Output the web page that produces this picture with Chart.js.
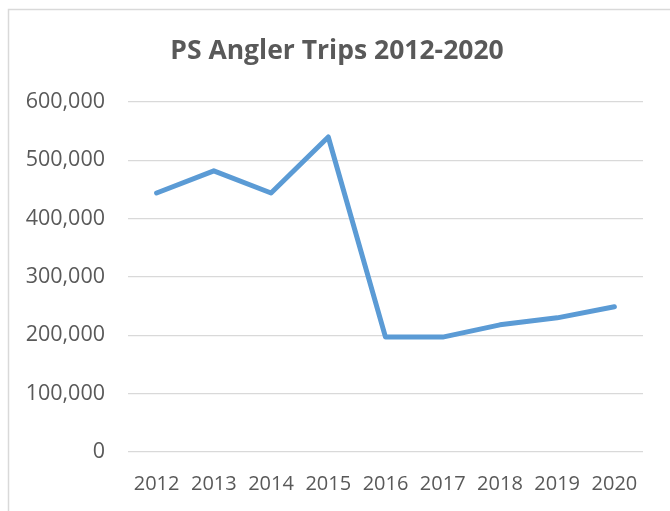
<!DOCTYPE html>
<html>
<head>
<meta charset="utf-8">
<script src="https://cdn.jsdelivr.net/npm/chart.js@4"></script>
<style>
  body { margin: 0; background: #fff; }
  #wrap { width: 670px; height: 511px; position: relative; }
</style>
</head>
<body>
<div id="wrap"><canvas id="chart" width="670" height="511"></canvas></div>
<script>
const years = ['2012', '2013', '2014', '2015', '2016', '2017', '2018', '2019', '2020']
const trips = [444000, 482000, 444000, 540000, 197000, 197000, 218000, 230000, 249000]
const yTicks = [0, 100000, 200000, 300000, 400000, 500000, 600000]
const titleText = 'PS Angler Trips 2012-2020'

const textColor = '#595959'
const gridColor = '#d9d9d9'

// light frame round the chart, and the title centred on the frame rather than the canvas
const frame = {
    id: 'frame',
    beforeDraw(chart){
        const ctx = chart.ctx
        ctx.save()
        ctx.strokeStyle = '#d9d9d9'
        ctx.lineWidth = 1.5
        ctx.strokeRect(8.5, 9.5, 720, 600)
        ctx.fillStyle = textColor
        ctx.font = 'bold 26.5px "Open Sans"'
        ctx.textAlign = 'center'
        ctx.textBaseline = 'middle'
        ctx.fillText(titleText, 337, 51)
        ctx.restore()
    }
}

new Chart(document.getElementById('chart'), {
    type: 'line',
    data: {
        labels: years,
        datasets: [{
            label: 'Trips',
            data: trips,
            borderColor: '#5b9bd5',
            borderWidth: 5,
            pointRadius: 0,
            tension: 0,
            borderCapStyle: 'round',
            borderJoinStyle: 'round'
        }]
    },
    options: {
        responsive: false,
        animation: false,
        layout: { padding: { left: 0, right: 27, top: 102, bottom: 0 } },
        plugins: {
            legend: { display: false },
            tooltip: { enabled: false },
            title: { display: false }
        },
        scales: {
            x: {
                offset: true,
                afterFit(scale){ scale.height = 59 },
                grid: { display: false },
                border: { display: false },
                ticks: {
                    color: textColor,
                    padding: 12,
                    maxRotation: 0,
                    autoSkip: false,
                    font: { family: 'Open Sans', size: 20 }
                }
            },
            y: {
                min: 0,
                max: 600000,
                afterFit(scale){ scale.width = 128 },
                afterBuildTicks(scale){ scale.ticks = yTicks.map(v => ({ value: v })) },
                grid: { color: gridColor, lineWidth: 1.3, drawTicks: false },
                border: { display: false },
                ticks: {
                    color: textColor,
                    padding: 23,
                    font: { family: 'Open Sans', size: 21.5 },
                    callback: v => v.toLocaleString('en-US')
                }
            }
        }
    },
    plugins: [frame]
})
</script>
</body>
</html>
